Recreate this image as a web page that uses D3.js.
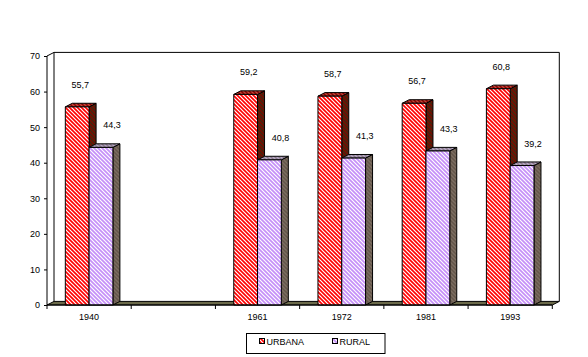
<!DOCTYPE html>
<html>
<head>
<meta charset="utf-8">
<script src="https://cdn.jsdelivr.net/npm/d3@7"></script>
<style>
  html, body { margin: 0; padding: 0; background: #fff; }
  svg text { font-family: "Liberation Sans", Arial, sans-serif; font-size: 9px; fill: #000; }
</style>
</head>
<body>
<svg id="chart" width="588" height="357"></svg>
<script>
// ---- data ----
const categories = ["1940", "", "1961", "1972", "1981", "1993"];
const urbana = [55.7, null, 59.2, 58.7, 56.7, 60.8];
const rural  = [44.3, null, 40.8, 41.3, 43.3, 39.2];
const seriesNames = ["URBANA", "RURAL"];
const yTicks = [0, 10, 20, 30, 40, 50, 60, 70];

// ---- layout ----
const svg = d3.select("#chart");
const X0 = 47, X1 = 552.3, Y0 = 305, Y1 = 56;
const DX = 7, DY = 3.6;

const x = d3.scaleBand().domain(categories.map((c, i) => i)).range([X0, X1]).paddingInner(0).paddingOuter(0);
const xs = d3.scaleBand().domain(seriesNames).range([0, x.bandwidth()]).paddingInner(0).paddingOuter(0.77);
const y = d3.scaleLinear().domain([0, 70]).range([Y0, Y1]);

// ---- patterns ----
const defs = svg.append("defs");
function stripe(id, base, line, w) {
  const p = defs.append("pattern").attr("id", id).attr("patternUnits", "userSpaceOnUse")
    .attr("width", 4).attr("height", 4);
  p.append("rect").attr("width", 4).attr("height", 4).attr("fill", base);
  p.append("path").attr("d", "M0,0 L4,4 M-1,3 L1,5 M3,-1 L5,1")
    .attr("stroke", line).attr("stroke-width", w).attr("fill", "none");
}
stripe("pU", "#ff0000", "#ffffff", 1.2);
stripe("pUs", "#7a0a00", "#3c2a10", 1.3);
stripe("pUt", "#8a0000", "#c24a3a", 1.3);
stripe("pR", "#c58ff8", "#ffffff", 1.1);
stripe("pRs", "#64564a", "#7c6e62", 1.3);
stripe("pRt", "#8a7c8a", "#b8a8c8", 1.3);
const fills = { URBANA: ["pU", "pUs", "pUt"], RURAL: ["pR", "pRs", "pRt"] };

// ---- walls ----
const walls = svg.append("g").attr("fill", "none").attr("stroke", "#000").attr("stroke-width", 1);
walls.append("path").attr("d",
  `M${X0 + DX},${Y0 - DY} L${X0 + DX},${Y1 - DY} L${X1 + DX},${Y1 - DY} L${X1 + DX},${Y0 - DY}`)
  .attr("fill", "#fff");
walls.append("path").attr("d", `M${X0},${Y1} L${X0 + DX},${Y1 - DY}`);

// floor
svg.append("path")
  .attr("d", `M${X0},${Y0} L${X1},${Y0} L${X1 + DX},${Y0 - DY} L${X0 + DX},${Y0 - DY} Z`)
  .attr("fill", "#6b6a4a").attr("stroke", "#000").attr("stroke-width", 1);

// ---- bars ----
const barsG = svg.append("g");
const data = [];
categories.forEach((c, i) => {
  [["URBANA", urbana[i]], ["RURAL", rural[i]]].forEach(([s, v]) => {
    if (v != null) data.push({ i, s, v });
  });
});
const bw = xs.bandwidth();
data.forEach(d => {
  const xa = x(d.i) + xs(d.s), xb = xa + bw, yt = y(d.v), yb = y(0);
  const g = barsG.append("g").attr("stroke", "#000").attr("stroke-width", 1).attr("stroke-linejoin", "round");
  const f = fills[d.s];
  g.append("path").attr("fill", `url(#${f[1]})`)
    .attr("d", `M${xb},${yt} L${xb + DX},${yt - DY} L${xb + DX},${yb - DY} L${xb},${yb} Z`);
  g.append("path").attr("fill", `url(#${f[2]})`)
    .attr("d", `M${xa},${yt} L${xa + DX},${yt - DY} L${xb + DX},${yt - DY} L${xb},${yt} Z`);
  g.append("rect").attr("fill", `url(#${f[0]})`)
    .attr("x", xa).attr("y", yt).attr("width", bw).attr("height", yb - yt);
});

// ---- value labels ----
svg.append("g").selectAll("text").data(data).join("text")
  .attr("text-anchor", "middle")
  .attr("x", d => x(d.i) + xs(d.s) + bw / 2 + (d.s === "URBANA" ? 3 : 11))
  .attr("y", d => y(d.v) - 19)
  .text(d => d3.format(".1f")(d.v).replace(".", ","));

// ---- y axis ----
const yAxis = svg.append("g").attr("transform", `translate(${X0},0)`)
  .call(d3.axisLeft(y).tickValues(yTicks).tickSize(3).tickPadding(4).tickFormat(d3.format("d")));
yAxis.select(".domain").attr("d", `M0,${Y1}V${Y0}`).attr("stroke", "#000");
yAxis.selectAll("line").attr("stroke", "#000");
yAxis.selectAll("text").attr("font-size", null).attr("font-family", null);

// ---- x axis ----
const xAxis = svg.append("g").attr("transform", `translate(0,${Y0})`)
  .call(d3.axisBottom(x).tickSize(0).tickPadding(9).tickFormat(i => categories[i]));
xAxis.select(".domain").attr("d", `M${X0},0H${X1}`).attr("stroke", "#000");
xAxis.selectAll("text").attr("font-size", null).attr("font-family", null);
const bounds = categories.map((c, i) => x(i)).concat([X1]);
xAxis.selectAll("line.bt").data(bounds).join("line").attr("class", "bt")
  .attr("x1", d => d).attr("x2", d => d).attr("y1", 0).attr("y2", 4).attr("stroke", "#000");

// ---- legend ----
const lg = svg.append("g");
lg.append("rect").attr("x", 246.5).attr("y", 333.5).attr("width", 138.5).attr("height", 20)
  .attr("fill", "#fff").attr("stroke", "#000");
const legX = d3.scaleOrdinal().domain(seriesNames).range([259.5, 332.5]);
seriesNames.forEach(s => {
  lg.append("rect").attr("x", legX(s)).attr("y", 338.5).attr("width", 5).attr("height", 5)
    .attr("fill", `url(#${fills[s][0]})`).attr("stroke", "#000");
  lg.append("text").attr("x", legX(s) + 7).attr("y", 344.5).text(s);
});
</script>
</body>
</html>
